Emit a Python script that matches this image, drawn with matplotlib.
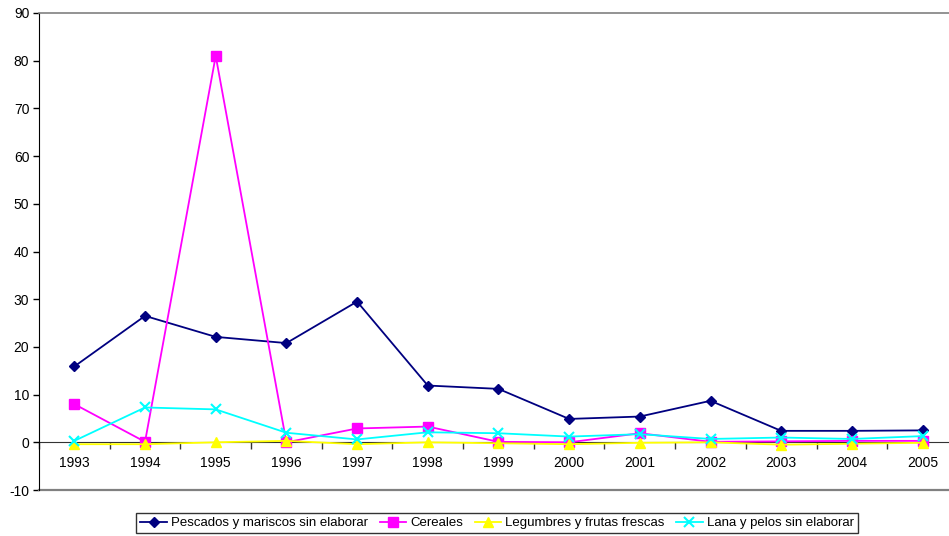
import matplotlib.pyplot as plt
import numpy as np
from matplotlib.ticker import FixedLocator, MultipleLocator

plt.rcParams["font.family"] = ["Liberation Sans", "DejaVu Sans"]
plt.rcParams["axes.unicode_minus"] = False

years = ["1993", "1994", "1995", "1996", "1997", "1998", "1999",
         "2000", "2001", "2002", "2003", "2004", "2005"]
pescados = [15.9, 26.5, 22.1, 20.8, 29.5, 11.9, 11.2, 4.9, 5.4, 8.7, 2.4, 2.4, 2.5]
cereales = [8.0, 0.1, 81.0, 0.0, 2.9, 3.3, 0.1, 0.0, 1.9, 0.1, 0.2, 0.3, 0.3]
legumbres = [-0.4, -0.4, 0.0, 0.3, -0.4, 0.0, -0.2, -0.4, -0.1, 0.0, -0.5, -0.3, -0.1]
lana = [0.3, 7.3, 6.9, 2.0, 0.6, 2.1, 1.9, 1.2, 1.7, 0.7, 1.0, 0.7, 1.3]

series = [
    ("Pescados y mariscos sin elaborar", pescados, "#000080", "D", 5, 1.0),
    ("Cereales", cereales, "#FF00FF", "s", 6.5, 1.0),
    ("Legumbres y frutas frescas", legumbres, "#FFFF00", "^", 7.5, 1.0),
    ("Lana y pelos sin elaborar", lana, "#00FFFF", "x", 7.5, 1.5),
]

fig = plt.figure(figsize=(9.49, 5.36), dpi=100)
ax = fig.add_axes([39 / 949, 46 / 536, 918.9 / 949, 477 / 536])

x = np.arange(len(years))
for label, vals, color, marker, ms, mew in series:
    ax.plot(x, vals, color=color, marker=marker, markersize=ms,
            markeredgewidth=mew, linewidth=1.3, label=label, clip_on=False)

ax.set_xlim(-0.5, len(years) - 0.5)
ax.set_ylim(-10, 90)
ax.yaxis.set_major_locator(MultipleLocator(10))

# category axis crossing at zero
ax.spines["bottom"].set_position(("data", 0))
ax.spines["bottom"].set_color("#333333")
ax.spines["bottom"].set_zorder(1)
ax.spines["top"].set_color("#808080")
ax.spines["top"].set_linewidth(1.2)
ax.spines["right"].set_visible(False)
ax.axhline(-10, color="#808080", linewidth=1.6, clip_on=False)

ax.xaxis.set_major_locator(FixedLocator(x))
ax.set_xticklabels(years)
ax.xaxis.set_minor_locator(FixedLocator(np.arange(-0.5, len(years), 1.0)))
ax.tick_params(axis="x", which="major", length=0, pad=10, labelsize=10)
ax.tick_params(axis="x", which="minor", length=5, width=1, color="#333333")
ax.tick_params(axis="y", length=4, width=1, labelsize=10, pad=3)

ax.legend(loc="center", bbox_to_anchor=(497 / 949, 13 / 536),
          bbox_transform=fig.transFigure, ncol=4, frameon=True,
          fancybox=False, edgecolor="black", fontsize=9.5,
          handlelength=2.0, handletextpad=0.3, columnspacing=0.9,
          borderpad=0.3, borderaxespad=0)

fig.savefig("out.png", dpi=100)
